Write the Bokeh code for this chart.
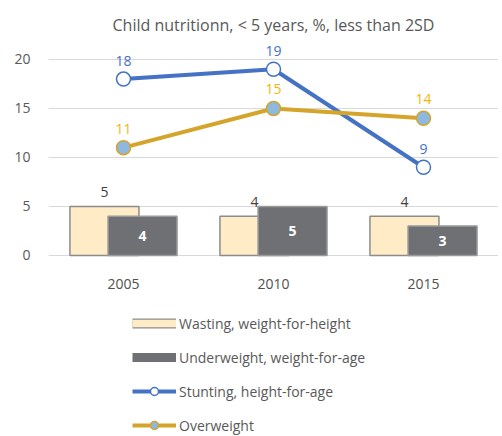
from bokeh.plotting import figure
from bokeh.models import ColumnDataSource, LabelSet, Legend, LegendItem, FixedTicker, FactorRange, Range1d
from bokeh.transform import dodge
from bokeh.core.properties import value
from bokeh.embed import file_html
from bokeh.resources import INLINE

years = ["2005", "2010", "2015"]
wasting = [5, 4, 4]
underweight = [4, 5, 3]
stunting = [18, 19, 9]
overweight = [11, 15, 14]
y_ticks = [0, 5, 10, 15, 20]

src = ColumnDataSource(dict(
    year=years, wasting=wasting, underweight=underweight,
    stunting=stunting, overweight=overweight,
    wasting_lbl=[str(v) for v in wasting],
    under_lbl=[str(v) for v in underweight],
    under_mid=[v / 2 for v in underweight],
    stunt_lbl=[str(v) for v in stunting],
    over_lbl=[str(v) for v in overweight],
))
# legend-only swatch source: no drawable values
swatch = ColumnDataSource(dict(year=years, v=[float("nan")] * len(years)))

FONT = "Open Sans"

p = figure(x_range=FactorRange(*years, range_padding=0), y_range=Range1d(-18.47, 22.14),
           width=498, height=436, output_backend="svg", toolbar_location=None,
           min_border_left=48, min_border_right=0, min_border_top=38, min_border_bottom=0,
           title="Child nutritionn, < 5 years, %, less than 2SD")
p.outline_line_color = None
p.title.align = "center"
p.title.text_font = FONT
p.title.text_font_size = "16px"
p.title.text_font_style = "normal"
p.title.text_color = "#595959"
p.title.standoff = 6

p.xgrid.grid_line_color = None
p.ygrid.grid_line_color = "#d9d9d9"
p.ygrid.grid_line_width = 1
p.yaxis.ticker = FixedTicker(ticks=y_ticks)
p.xaxis.fixed_location = 0
for ax in (p.xaxis, p.yaxis):
    ax.axis_line_color = None
    ax.major_tick_line_color = None
    ax.minor_tick_line_color = None
    ax.major_label_text_font = FONT
    ax.major_label_text_font_size = "14px"
p.yaxis.major_label_text_color = "#595959"
p.yaxis.major_label_standoff = 12
p.xaxis.major_label_text_color = "#505050"
p.xaxis.major_label_standoff = 18

p.vbar(x=dodge("year", -0.127, range=p.x_range), top="wasting", width=0.46, source=src,
       fill_color="#FFEBC6", line_color="#8c8c8c", line_width=1.5)
p.vbar(x=dodge("year", 0.127, range=p.x_range), top="underweight", width=0.46, source=src,
       fill_color="#6F7073", line_color="#9a9a9a", line_width=1.5)

r_sl = p.line(x="year", y="stunting", source=src, line_color="#4472C4", line_width=4)
r_sm = p.scatter(x="year", y="stunting", source=src, size=14, fill_color="white",
                 line_color="#4472C4", line_width=1.5)
r_ol = p.line(x="year", y="overweight", source=src, line_color="#D4A52A", line_width=4)
r_om = p.scatter(x="year", y="overweight", source=src, size=14, fill_color="#8DB8E0",
                 line_color="#D4A52A", line_width=1.5)

# legend swatches for the bar series (drawn only in the legend)
lw_edge = p.line(x="year", y="v", source=swatch, line_color="#8c8c8c", line_width=10)
lw_fill = p.line(x="year", y="v", source=swatch, line_color="#FFEBC6", line_width=7.5)
lu_fill = p.line(x="year", y="v", source=swatch, line_color="#6F7073", line_width=9)

common = dict(source=src, text_align="center", text_baseline="middle",
              text_font=value(FONT), text_font_size="14px")
p.add_layout(LabelSet(x=dodge("year", -0.127, range=p.x_range), y="wasting", text="wasting_lbl",
                      y_offset=14, text_color="#404040", **common))
p.add_layout(LabelSet(x=dodge("year", 0.127, range=p.x_range), y="under_mid", text="under_lbl",
                      text_color="white", text_font_style="bold", **common))
p.add_layout(LabelSet(x="year", y="stunting", text="stunt_lbl", y_offset=18,
                      text_color="#4472C4", **common))
p.add_layout(LabelSet(x="year", y="overweight", text="over_lbl", y_offset=19,
                      text_color="#F2B705", **common))

legend = Legend(items=[
    LegendItem(label="Wasting, weight-for-height", renderers=[lw_edge, lw_fill]),
    LegendItem(label="Underweight, weight-for-age", renderers=[lu_fill]),
    LegendItem(label="Stunting, height-for-age", renderers=[r_sl, r_sm]),
    LegendItem(label="Overweight", renderers=[r_ol, r_om]),
], location=(84, 1), orientation="vertical")
legend.border_line_color = None
legend.background_fill_alpha = 0
legend.padding = 0
legend.margin = 0
legend.glyph_width = 44
legend.glyph_height = 20
legend.label_height = 20
legend.spacing = 14
legend.label_standoff = 3
legend.label_text_font = FONT
legend.label_text_font_size = "14px"
legend.label_text_color = "#595959"
p.add_layout(legend, "center")

open("out.html", "w").write(file_html(p, INLINE))
